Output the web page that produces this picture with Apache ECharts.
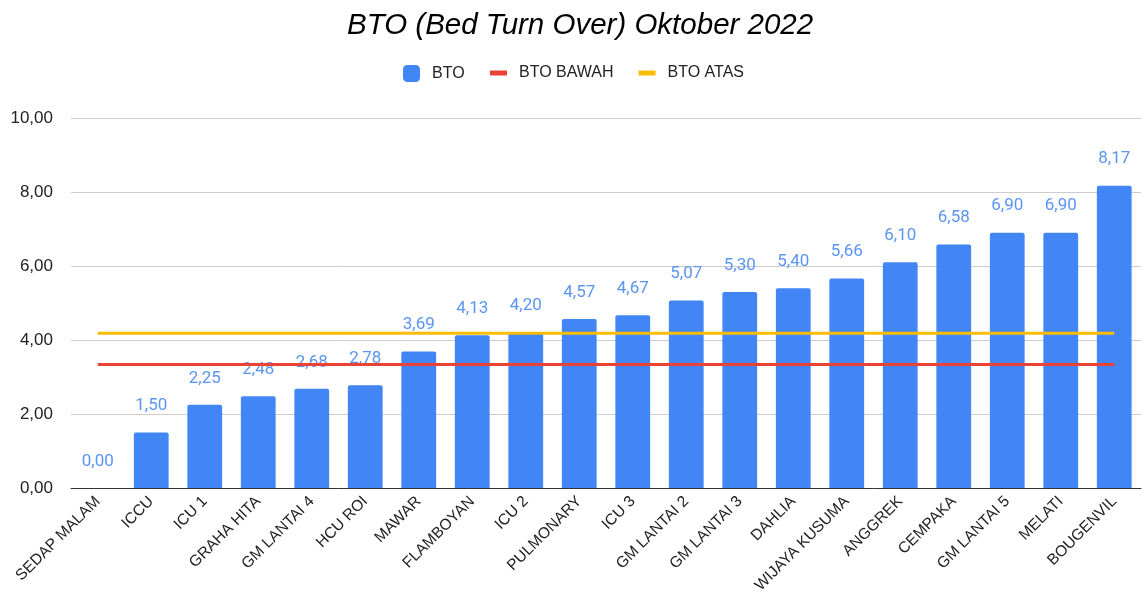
<!DOCTYPE html>
<html>
<head>
<meta charset="utf-8">
<title>BTO Oktober 2022</title>
<script src="https://cdn.jsdelivr.net/npm/echarts@6/dist/echarts.min.js"></script>
<style>
  html, body { margin: 0; padding: 0; background: #fff; }
  #main { width: 1144px; height: 602px; }
</style>
</head>
<body>
<div id="main"></div>
<script type="text/javascript">
var categories = ['SEDAP MALAM', 'ICCU', 'ICU 1', 'GRAHA HITA', 'GM LANTAI 4', 'HCU ROI', 'MAWAR',
  'FLAMBOYAN', 'ICU 2', 'PULMONARY', 'ICU 3', 'GM LANTAI 2', 'GM LANTAI 3', 'DAHLIA',
  'WIJAYA KUSUMA', 'ANGGREK', 'CEMPAKA', 'GM LANTAI 5', 'MELATI', 'BOUGENVIL'];
var bto = [0.00, 1.50, 2.25, 2.48, 2.68, 2.78, 3.69, 4.13, 4.20, 4.57,
  4.67, 5.07, 5.30, 5.40, 5.66, 6.10, 6.58, 6.90, 6.90, 8.17];
var btoBawah = [3.34, 3.34, 3.34, 3.34, 3.34, 3.34, 3.34, 3.34, 3.34, 3.34,
  3.34, 3.34, 3.34, 3.34, 3.34, 3.34, 3.34, 3.34, 3.34, 3.34];
var btoAtas = [4.18, 4.18, 4.18, 4.18, 4.18, 4.18, 4.18, 4.18, 4.18, 4.18,
  4.18, 4.18, 4.18, 4.18, 4.18, 4.18, 4.18, 4.18, 4.18, 4.18];

function koma(v) { return Number(v).toFixed(2).replace('.', ','); }

var arial = 'Liberation Sans';
var myChart = echarts.init(document.getElementById('main'));
var option = {
  backgroundColor: '#fff',
  textStyle: { fontFamily: arial },
  title: {
    text: 'BTO (Bed Turn Over) Oktober 2022',
    left: 342,
    top: 6,
    textStyle: { fontFamily: arial, fontStyle: 'italic', fontWeight: 'normal', fontSize: 29.5, color: '#000' }
  },
  legend: [{
    data: ['BTO'],
    left: 398, top: 60,
    itemWidth: 17, itemHeight: 17,
    icon: 'roundRect',
    textStyle: { fontSize: 16, color: '#222', padding: [0, 0, 0, 7] }
  }, {
    data: ['BTO BAWAH', 'BTO ATAS'],
    left: 485, top: 60,
    itemWidth: 17, itemHeight: 5, itemGap: 25,
    icon: 'rect',
    textStyle: { fontSize: 16, color: '#222', padding: [0, 0, 0, 7] }
  }],
  grid: { left: 71, right: 3, top: 118, bottom: 114 },
  xAxis: {
    type: 'category',
    data: categories,
    axisTick: { show: false },
    axisLine: { lineStyle: { color: '#333', width: 1 } },
    axisLabel: { rotate: 45, interval: 0, fontSize: 15.5, color: '#222', margin: 11 }
  },
  yAxis: {
    type: 'value',
    min: 0, max: 10, interval: 2,
    axisLabel: { formatter: koma, fontSize: 17, color: '#222', margin: 18 },
    splitLine: { lineStyle: { color: '#ccc' } }
  },
  series: [{
    name: 'BTO',
    type: 'bar',
    data: bto,
    barCategoryGap: '35%',
    itemStyle: { color: '#4285f4', borderRadius: [2, 2, 0, 0] },
    label: {
      show: true, position: 'top', distance: 18,
      formatter: function (p) { return koma(p.value); },
      fontFamily: 'Roboto', fontSize: 17, color: '#5a95f5'
    },
    z: 2
  }, {
    name: 'BTO BAWAH',
    type: 'line',
    data: btoBawah,
    symbol: 'none',
    itemStyle: { color: '#ea4335' },
    lineStyle: { color: '#ea4335', width: 3 },
    z: 3
  }, {
    name: 'BTO ATAS',
    type: 'line',
    data: btoAtas,
    symbol: 'none',
    itemStyle: { color: '#fbbc04' },
    lineStyle: { color: '#fbbc04', width: 3 },
    z: 3
  }]
};
myChart.setOption(option);
</script>
</body>
</html>
